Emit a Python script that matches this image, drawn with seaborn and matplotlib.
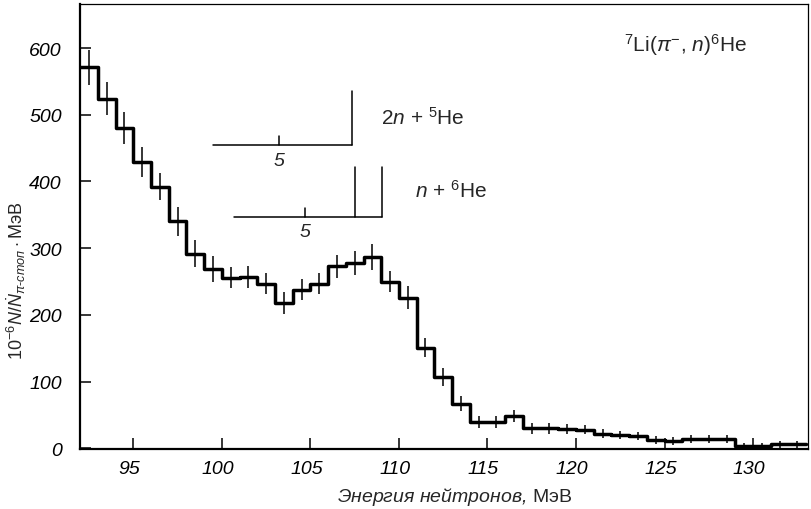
import numpy as np
import pandas as pd
import matplotlib
matplotlib.use("Agg")
import matplotlib.pyplot as plt
import seaborn as sns
from matplotlib.transforms import ScaledTranslation

# ---- data ----
bin_edges = [92, 93, 94, 95, 96, 97, 98, 99, 100, 101, 102, 103, 104, 105,
             106, 107, 108, 109, 110, 111, 112, 113, 114, 115, 116, 117, 118,
             119, 120, 121, 122, 123, 124, 125, 126, 127, 128, 129, 130, 131,
             132, 133]
counts = [571, 524, 480, 429, 392, 340, 292, 269, 256, 257, 247, 218, 238,
          247, 273, 278, 287, 250, 226, 151, 107, 67, 40, 40, 48, 30, 30, 29,
          28, 22, 20, 19, 13, 11, 14, 14, 14, 3, 3, 6, 6]
errors = [26, 25, 24, 23, 20, 21, 20, 19, 16, 16, 16, 17, 16, 16, 17, 18,
          20, 16, 17, 14, 13, 11, 9, 9, 9, 8, 8, 8, 7, 7, 6, 6, 6, 6, 6, 6,
          6, 5, 5, 5, 5]
x_ticks = [95, 100, 105, 110, 115, 120, 125, 130]
y_ticks = [0, 100, 200, 300, 400, 500, 600]

centers = [(a + b) / 2 for a, b in zip(bin_edges[:-1], bin_edges[1:])]
df = pd.DataFrame({"energy": centers, "count": counts, "err": errors})

sns.set_theme(style="ticks")
fam = ["Liberation Sans", "DejaVu Sans"]
plt.rcParams["font.family"] = fam
plt.rcParams["mathtext.fontset"] = "custom"
plt.rcParams["mathtext.rm"] = "Liberation Sans"
plt.rcParams["mathtext.it"] = "Liberation Sans:italic"
plt.rcParams["mathtext.bf"] = "Liberation Sans:bold"

fig = plt.figure(figsize=(8.11, 5.10), dpi=100)
ax = fig.add_axes([80 / 811, 60 / 510, 728 / 811, 445 / 510])

sns.histplot(data=df, x="energy", weights="count", bins=bin_edges,
             element="step", fill=False, color="black", linewidth=2.5,
             ax=ax, legend=False)
ax.errorbar(df["energy"], df["count"], yerr=df["err"], fmt="none",
            ecolor="black", elinewidth=1.1, capsize=0)

ax.set_xlim(91.99, 133.1)
ax.set_ylim(-1, 666)
ax.set_xticks(x_ticks)
ax.set_yticks(y_ticks)
ax.set_xticklabels([str(t) for t in x_ticks])
ax.set_yticklabels([str(t) for t in y_ticks])
ax.tick_params(direction="in", length=8, width=1.1, colors="black",
               labelsize=14, pad=8)
ax.tick_params(axis="y", pad=13)
for lab in ax.get_xticklabels() + ax.get_yticklabels():
    lab.set_fontstyle("italic")
for lab in ax.get_xticklabels():
    lab.set_transform(lab.get_transform() + ScaledTranslation(-4 / 100, 0, fig.dpi_scale_trans))

for side in ["left", "bottom"]:
    ax.spines[side].set_linewidth(1.6)
for side in ["top", "right"]:
    ax.spines[side].set_linewidth(0.9)
for s in ax.spines.values():
    s.set_color("black")

ax.set_xlabel(r"Энергия нейтронов, $\mathrm{МэВ}$", fontsize=14, fontstyle="italic")
ax.xaxis.set_label_coords(0.515, -0.082)
ax.set_ylabel(r"$10^{-6}N/\dot{N}_{\pi\text{-}стоп}\cdot$МэВ", fontsize=13)
ax.yaxis.set_label_coords(-0.072, 0.38)

# reaction label
ax.text(0.747, 0.91, r"$^{7}$Li($\pi^{-}$, $n$)$^{6}$He", transform=ax.transAxes,
        fontsize=15, ha="left", va="center")

# threshold diagrams
lw = 1.1
ax.plot([99.5, 107.35], [455, 455], color="black", lw=lw)
ax.plot([103.23, 103.23], [455, 468], color="black", lw=lw)
ax.plot([107.35, 107.35], [455, 536], color="black", lw=lw)
ax.text(103.23, 432, "5", fontsize=14, fontstyle="italic", ha="center", va="center")
ax.text(109.0, 497, r"2$n$ + $^{5}$He", fontsize=15, ha="left", va="center")

ax.plot([100.69, 109.05], [347, 347], color="black", lw=lw)
ax.plot([104.7, 104.7], [347, 360], color="black", lw=lw)
ax.plot([107.52, 107.52], [347, 422], color="black", lw=lw)
ax.plot([109.05, 109.05], [347, 422], color="black", lw=lw)
ax.text(104.7, 325, "5", fontsize=14, fontstyle="italic", ha="center", va="center")
ax.text(110.9, 388, r"$n$ + $^{6}$He", fontsize=15, ha="left", va="center")

fig.savefig("out.png", dpi=100)
